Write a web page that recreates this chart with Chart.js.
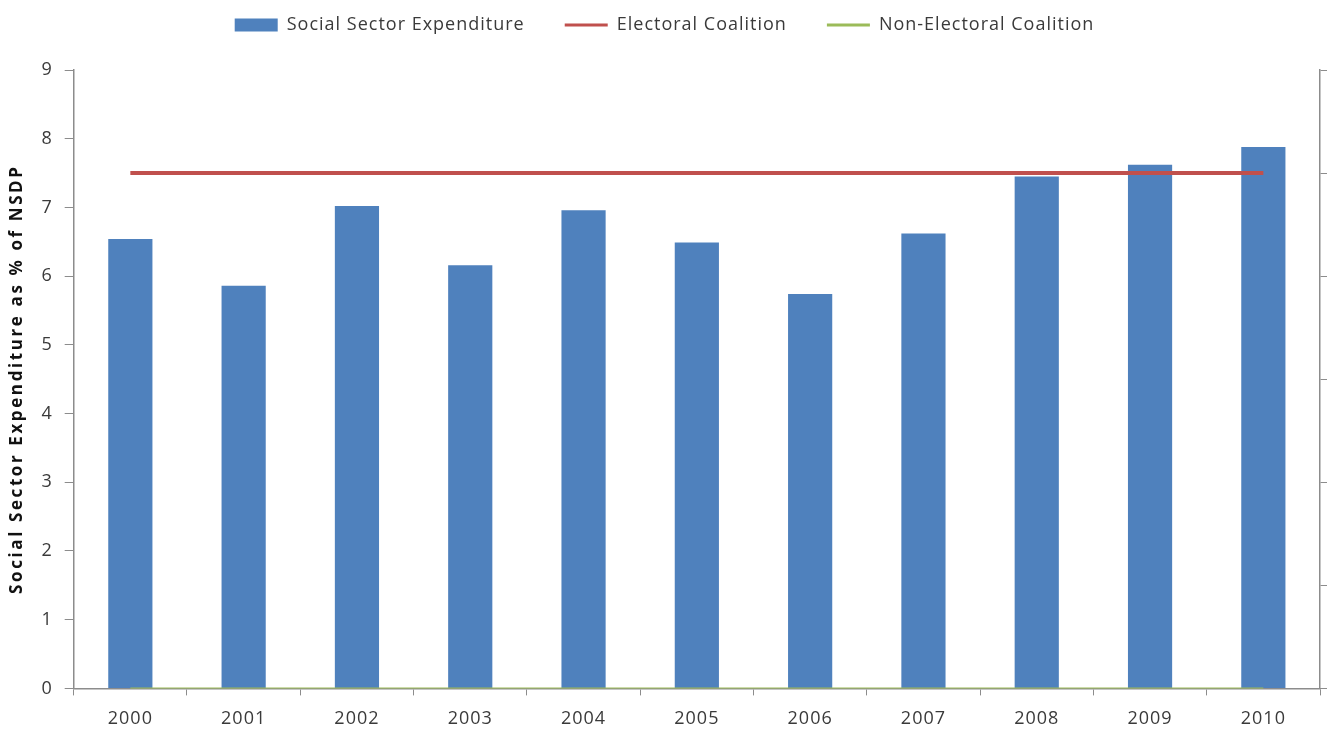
<!DOCTYPE html>
<html>
<head>
<meta charset="utf-8">
<script src="https://cdn.jsdelivr.net/npm/chart.js@4/dist/chart.umd.min.js"></script>
<style>
  html, body { margin: 0; padding: 0; background: #ffffff; }
  #wrap { width: 1335px; height: 736px; position: relative; }
</style>
</head>
<body>
<div id="wrap"><canvas id="chart" width="1335" height="736"></canvas></div>
<script>
// Years on the category axis
const years = ['2000', '2001', '2002', '2003', '2004', '2005', '2006', '2007', '2008', '2009', '2010'];
// Social sector expenditure, % of NSDP
const socialExpenditure = [6.54, 5.86, 7.02, 6.16, 6.96, 6.49, 5.74, 6.62, 7.45, 7.62, 7.88];
// Coalition type indicators (secondary axis, 0/1)
const electoralCoalition = [1, 1, 1, 1, 1, 1, 1, 1, 1, 1, 1];
const nonElectoralCoalition = [0, 0, 0, 0, 0, 0, 0, 0, 0, 0, 0];
// Primary axis tick values
const leftTicks = [0, 1, 2, 3, 4, 5, 6, 7, 8, 9];

const axisGray = '#8c8c8c';
const textColor = '#3a3a3a';
const fontFamily = '"Open Sans", Lato, "DejaVu Sans", sans-serif';

// Extra room between the legend row and the plot area
const legendGap = {
  id: 'legendGap',
  beforeInit(chart) {
    const baseFit = chart.legend.fit;
    chart.legend.fit = function fit() {
      baseFit.call(this);
      this.height += 26;
    };
  }
};

// Slightly tracked-out lettering for all chart text, wider for the axis title
const textSpacing = {
  id: 'textSpacing',
  beforeUpdate(chart) { chart.ctx.letterSpacing = '1px'; },
  beforeLayout(chart) { chart.ctx.letterSpacing = '1px'; },
  beforeDraw(chart) { chart.ctx.letterSpacing = '1px'; },
  afterLayout(chart) {
    const scale = chart.scales.y;
    if (scale && !scale._spacedTitle) {
      const baseTitle = scale.drawTitle;
      scale.drawTitle = function drawTitle() {
        const ctx = this.ctx;
        const prev = ctx.letterSpacing;
        ctx.letterSpacing = '2.6px';
        baseTitle.call(this);
        ctx.letterSpacing = prev;
      };
      scale._spacedTitle = true;
    }
  }
};

new Chart(document.getElementById('chart'), {
  type: 'bar',
  plugins: [legendGap, textSpacing],
  data: {
    labels: years,
    datasets: [
      {
        type: 'line',
        label: 'Electoral Coalition',
        data: electoralCoalition,
        yAxisID: 'y2',
        borderColor: '#C0504D',
        backgroundColor: '#C0504D',
        borderWidth: 4,
        pointRadius: 0,
        pointStyle: 'line',
        order: 0
      },
      {
        type: 'line',
        label: 'Non-Electoral Coalition',
        data: nonElectoralCoalition,
        yAxisID: 'y2',
        borderColor: '#9BBB59',
        backgroundColor: '#9BBB59',
        borderWidth: 2,
        pointRadius: 0,
        pointStyle: 'line',
        order: 0
      },
      {
        type: 'bar',
        label: 'Social Sector Expenditure',
        data: socialExpenditure,
        yAxisID: 'y',
        backgroundColor: '#4F81BD',
        borderWidth: 0,
        barPercentage: 0.39,
        categoryPercentage: 1.0,
        pointStyle: 'rect',
        order: 1
      }
    ]
  },
  options: {
    responsive: false,
    animation: false,
    layout: { padding: { left: 2, right: 8, top: -24, bottom: -7 } },
    plugins: {
      tooltip: { enabled: false },
      legend: {
        position: 'top',
        labels: {
          usePointStyle: true,
          pointStyleWidth: 43,
          boxHeight: 13,
          color: textColor,
          padding: 40,
          font: { family: fontFamily, size: 18 },
          generateLabels(chart) {
            const order = [2, 0, 1];
            return order.map(i => {
              const ds = chart.data.datasets[i];
              const isBar = ds.type === 'bar';
              return {
                text: ds.label,
                fillStyle: isBar ? ds.backgroundColor : ds.borderColor,
                strokeStyle: isBar ? ds.backgroundColor : ds.borderColor,
                lineWidth: isBar ? 0 : 3,
                pointStyle: ds.pointStyle,
                fontColor: textColor,
                hidden: false,
                datasetIndex: i
              };
            });
          }
        }
      }
    },
    scales: {
      x: {
        offset: true,
        grid: {
          display: true,
          offset: true,
          drawOnChartArea: false,
          drawTicks: true,
          tickLength: 7,
          color: axisGray
        },
        border: { display: true, color: axisGray, width: 1.5 },
        ticks: {
          color: textColor,
          padding: 13,
          font: { family: fontFamily, size: 18 }
        }
      },
      y: {
        position: 'left',
        min: 0,
        max: 9,
        afterBuildTicks(axis) { axis.ticks = leftTicks.map(v => ({ value: v })); },
        grid: {
          display: true,
          drawOnChartArea: false,
          drawTicks: true,
          tickLength: 9,
          color: axisGray
        },
        border: { display: true, color: axisGray, width: 1.5 },
        ticks: {
          color: textColor,
          padding: 12,
          font: { family: fontFamily, size: 18 }
        },
        title: {
          display: true,
          text: 'Social Sector Expenditure as % of NSDP',
          color: '#111111',
          padding: { top: 5, bottom: 2 },
          font: { family: fontFamily, size: 17, weight: 'bold' }
        }
      },
      y2: {
        position: 'right',
        min: 0,
        max: 1.2,
        grid: {
          display: true,
          drawOnChartArea: false,
          drawTicks: true,
          tickLength: 7,
          color: axisGray
        },
        border: { display: true, color: axisGray, width: 1.5 },
        ticks: { display: false, stepSize: 0.2 }
      }
    }
  }
});
</script>
</body>
</html>
